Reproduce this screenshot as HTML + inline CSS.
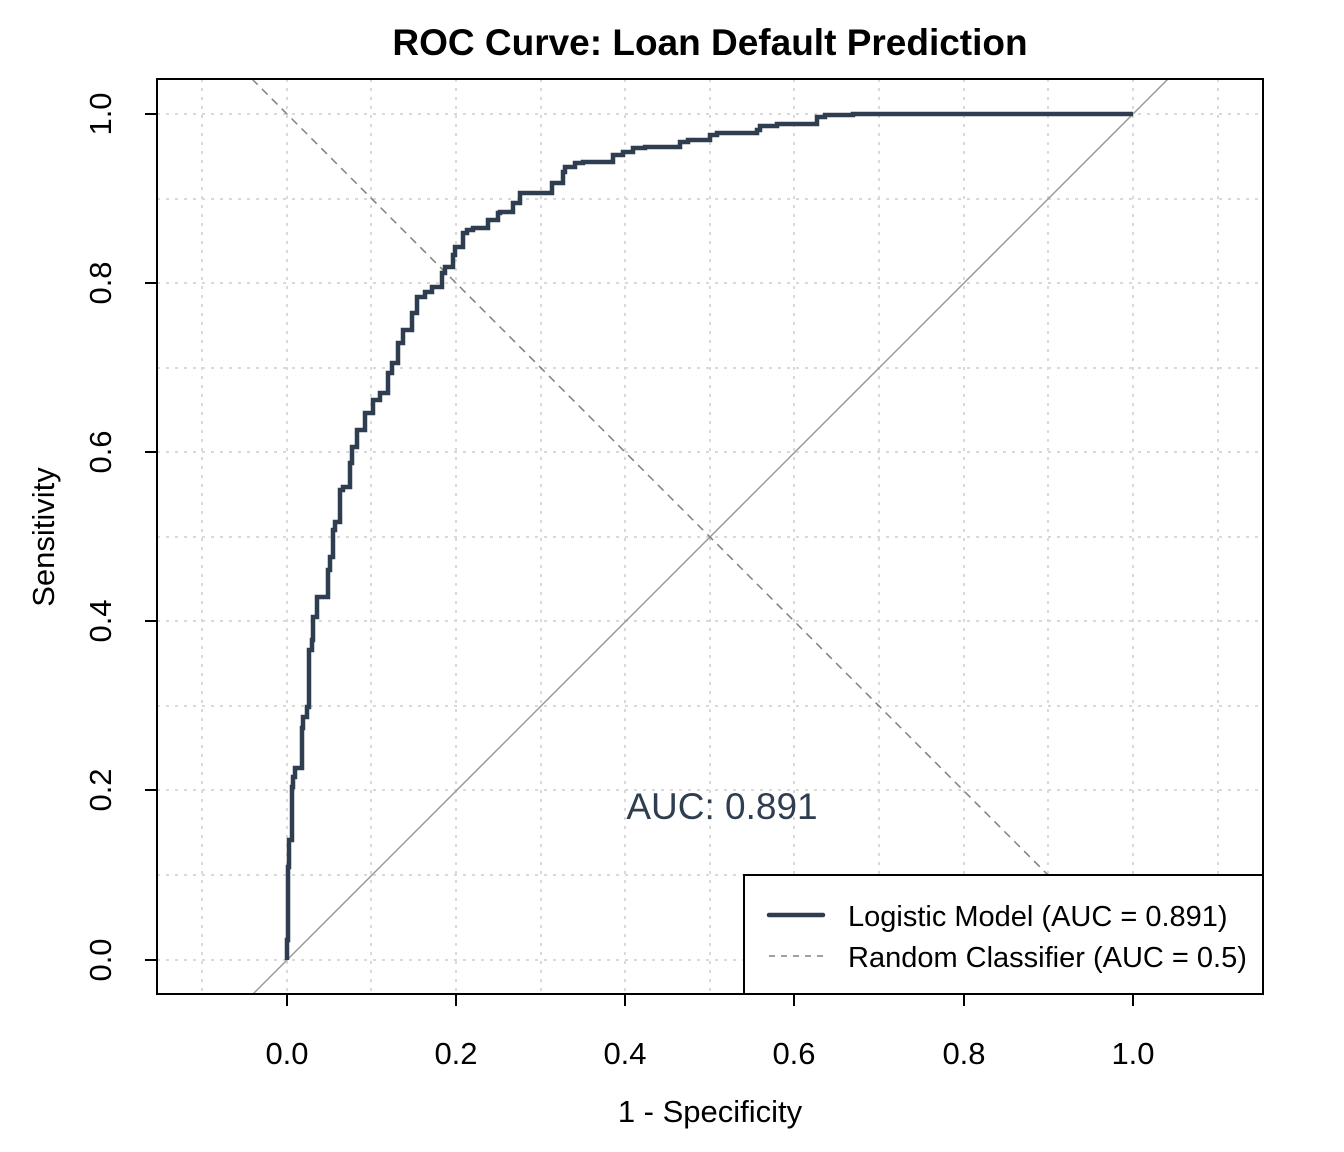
<!DOCTYPE html>
<html><head><meta charset="utf-8"><style>
html,body{margin:0;padding:0;background:#fff;}
svg{display:block;font-family:"Liberation Sans",Arial,sans-serif;}
</style></head><body>
<svg width="1344" height="1152" viewBox="0 0 1344 1152" xmlns="http://www.w3.org/2000/svg">
<rect width="1344" height="1152" fill="#fff"/>
<g stroke="#d9d9d9" stroke-width="2" stroke-dasharray="3,6">
<line x1="202" y1="79" x2="202" y2="994"/><line x1="287" y1="79" x2="287" y2="994"/><line x1="371" y1="79" x2="371" y2="994"/><line x1="456" y1="79" x2="456" y2="994"/><line x1="541" y1="79" x2="541" y2="994"/><line x1="625" y1="79" x2="625" y2="994"/><line x1="710" y1="79" x2="710" y2="994"/><line x1="794" y1="79" x2="794" y2="994"/><line x1="879" y1="79" x2="879" y2="994"/><line x1="964" y1="79" x2="964" y2="994"/><line x1="1048" y1="79" x2="1048" y2="994"/><line x1="1133" y1="79" x2="1133" y2="994"/><line x1="1218" y1="79" x2="1218" y2="994"/>
<line x1="157" y1="114" x2="1263" y2="114"/><line x1="157" y1="199" x2="1263" y2="199"/><line x1="157" y1="283" x2="1263" y2="283"/><line x1="157" y1="368" x2="1263" y2="368"/><line x1="157" y1="452" x2="1263" y2="452"/><line x1="157" y1="537" x2="1263" y2="537"/><line x1="157" y1="621" x2="1263" y2="621"/><line x1="157" y1="706" x2="1263" y2="706"/><line x1="157" y1="790" x2="1263" y2="790"/><line x1="157" y1="875" x2="1263" y2="875"/><line x1="157" y1="960" x2="1263" y2="960"/>
</g>
<line x1="253" y1="994" x2="1168" y2="79" stroke="#999" stroke-width="1.5"/>
<line x1="252" y1="79" x2="1167" y2="994" stroke="#808080" stroke-width="1.5" stroke-dasharray="8,6"/>
<polyline fill="none" stroke="#2e3d4f" stroke-width="4.5" stroke-linejoin="miter" points="287,960 287,940 288,940 288,867 289,867 289,840 292,840 292,787 293,787 293,777 295,777 295,768 302,768 302,728 303,728 303,717 307,717 307,707 309,707 309,650 312,650 312,640 313,640 313,617 317,617 317,597 328,597 328,570 330,570 330,557 333,557 333,530 335,530 335,522 340,522 340,490 343,490 343,487 350,487 350,463 352,463 352,447 357,447 357,430 365,430 365,413 373,413 373,400 380,400 380,393 388,393 388,373 392,373 392,363 398,363 398,343 403,343 403,330 412,330 412,313 417,313 417,297 425,297 425,292 432,292 432,287 442,287 442,273 445,273 445,267 453,267 453,255 455,255 455,247 463,247 463,233 467,233 467,230 473,230 473,228 488,228 488,220 498,220 498,213 500,213 500,212 513,212 513,203 520,203 520,193 533,193 552,193 552,185 552,185 552,183 563,183 563,172 565,172 565,167 575,167 575,163 583,163 583,162 613,162 613,155 623,155 623,152 633,152 633,148 645,148 645,147 680,147 680,142 688,142 688,140 710,140 710,135 717,135 717,133 757,133 757,130 760,130 760,126 777,126 777,124 817,124 817,117 825,117 825,115 853,115 853,114 1133,114"/>
<text x="722" y="819" font-size="37" fill="#2e3d4f" text-anchor="middle">AUC: 0.891</text>
<rect x="744" y="875" width="519" height="119" fill="#fff" stroke="#000" stroke-width="2"/>
<line x1="769" y1="915" x2="823" y2="915" stroke="#2e3d4f" stroke-width="4.5" stroke-linecap="round"/>
<line x1="769" y1="956" x2="823" y2="956" stroke="#808080" stroke-width="1.5" stroke-dasharray="6,6"/>
<text x="848" y="926" font-size="29" fill="#000">Logistic Model (AUC = 0.891)</text>
<text x="848" y="967" font-size="29" fill="#000">Random Classifier (AUC = 0.5)</text>
<rect x="157" y="79" width="1106" height="915" fill="none" stroke="#000" stroke-width="2"/>
<g stroke="#000" stroke-width="2">
<line x1="287" y1="994" x2="287" y2="1006"/><line x1="456" y1="994" x2="456" y2="1006"/><line x1="625" y1="994" x2="625" y2="1006"/><line x1="794" y1="994" x2="794" y2="1006"/><line x1="964" y1="994" x2="964" y2="1006"/><line x1="1133" y1="994" x2="1133" y2="1006"/>
<line x1="145" y1="114" x2="157" y2="114"/><line x1="145" y1="283" x2="157" y2="283"/><line x1="145" y1="452" x2="157" y2="452"/><line x1="145" y1="621" x2="157" y2="621"/><line x1="145" y1="790" x2="157" y2="790"/><line x1="145" y1="960" x2="157" y2="960"/>
</g>
<g font-size="31" text-anchor="middle" fill="#000">
<text x="287" y="1064">0.0</text><text x="456" y="1064">0.2</text><text x="625" y="1064">0.4</text><text x="794" y="1064">0.6</text><text x="964" y="1064">0.8</text><text x="1133" y="1064">1.0</text>
<text transform="translate(111,960) rotate(-90)">0.0</text><text transform="translate(111,790) rotate(-90)">0.2</text><text transform="translate(111,621) rotate(-90)">0.4</text><text transform="translate(111,452) rotate(-90)">0.6</text><text transform="translate(111,283) rotate(-90)">0.8</text><text transform="translate(111,114) rotate(-90)">1.0</text>
<text x="710" y="1122">1 - Specificity</text>
<text transform="translate(54,537) rotate(-90)">Sensitivity</text>
<text x="710" y="55" font-size="37" font-weight="bold">ROC Curve: Loan Default Prediction</text>
</g>
</svg>
</body></html>
